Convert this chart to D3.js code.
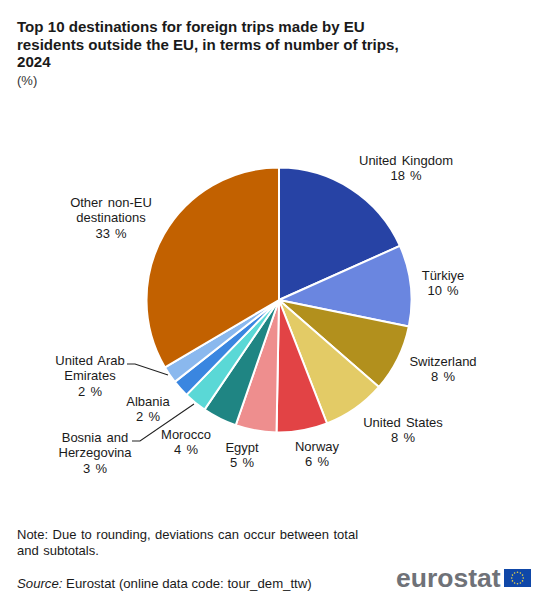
<!DOCTYPE html>
<html><head><meta charset="utf-8">
<script src="https://cdn.jsdelivr.net/npm/d3@7"></script>
<style>html,body{margin:0;padding:0;background:#fff}svg{display:block}text{font-family:"Liberation Sans",Arial,sans-serif;fill:#1a1a1a}</style>
</head><body><svg id="c" width="548" height="600"></svg>
<script>
const categories=["United Kingdom","Türkiye","Switzerland","United States","Norway","Egypt","Morocco","Bosnia and Herzegovina","Albania","United Arab Emirates","Other non-EU destinations"];
const values=[18.3,9.9,8.2,7.7,6.2,5.0,4.2,2.8,2.1,2.1,33.5];
const valueLabels=["18 %","10 %","8 %","8 %","6 %","5 %","4 %","3 %","2 %","2 %","33 %"];
const colors=["#2743a5","#6a86e0","#b2901d","#e3cb66","#e24345","#ee8e8e","#1f8583","#5ad8d6","#3a86e0","#8ab8ee","#c26100"];
const labelLines=[["United Kingdom"],["Türkiye"],["Switzerland"],["United States"],["Norway"],["Egypt"],["Morocco"],["Bosnia and","Herzegovina"],["Albania"],["United Arab","Emirates"],["Other non-EU","destinations"]];
const labelAnchors=[[406,165],[443,280],[443,366],[403,427],[317,451],[242,452],[186,439],[95,442],[148,406],[90,365],[111,207]];
const titleLines=["Top 10 destinations for foreign trips made by EU","residents outside the EU, in terms of number of trips,","2024"];
const noteLines=["Note: Due to rounding, deviations can occur between total","and subtotals."];
const leaders=[[[127,364],[135,364],[168,375]],[[132,441],[140,441],[194,404]]];

const svg=d3.select("#c");
const cx=279,cy=300,r=132.5;
svg.append("g").selectAll("text").data(titleLines).join("text")
 .attr("x",17).attr("y",(d,i)=>32+i*17.7).attr("font-size",15.1).attr("font-weight","bold").text(d=>d);
svg.append("text").attr("x",17).attr("y",85).attr("font-size",13).style("fill","#333").text("(%)");

const pie=d3.pie().sort(null).value(d=>d)(values);
const arc=d3.arc().innerRadius(0).outerRadius(r);
svg.append("g").attr("transform",`translate(${cx},${cy})`).selectAll("path").data(pie).join("path")
 .attr("d",arc).attr("fill",(d,i)=>colors[i]).attr("stroke","#fff").attr("stroke-width",2);

const line=d3.line();
svg.append("g").selectAll("path").data(leaders).join("path")
 .attr("d",d=>line(d)).attr("fill","none").attr("stroke","#222").attr("stroke-width",1.1);

const g=svg.append("g");
categories.forEach((c,i)=>{
 const lines=labelLines[i].concat(valueLabels[i]);
 const [x,y]=labelAnchors[i];
 g.append("text").attr("text-anchor","middle").attr("font-size",13).attr("word-spacing",1.5)
  .selectAll("tspan").data(lines).join("tspan").attr("x",x).attr("y",(d,k)=>y+k*15.4).text(d=>d);
});

svg.append("g").selectAll("text").data(noteLines).join("text")
 .attr("x",17).attr("y",(d,i)=>539+i*15.5).attr("font-size",13).attr("word-spacing",0.9).text(d=>d);
const s=svg.append("text").attr("x",17).attr("y",588).attr("font-size",13.2);
s.append("tspan").attr("font-style","italic").text("Source:");
s.append("tspan").text(" Eurostat (online data code: tour_dem_ttw)");

svg.append("text").attr("x",396).attr("y",587).attr("font-size",26.5).attr("font-weight","bold").style("fill","#6f7278").text("eurostat");
svg.append("rect").attr("x",504).attr("y",569).attr("width",27).attr("height",18).attr("fill","#0f47a8");
const stars=d3.range(12).map(i=>i*30);
svg.append("g").selectAll("circle").data(stars).join("circle")
 .attr("cx",d=>517.5+5.8*Math.sin(d*Math.PI/180)).attr("cy",d=>578-5.8*Math.cos(d*Math.PI/180)).attr("r",0.8).attr("fill","#e8d44a");
</script></body></html>
